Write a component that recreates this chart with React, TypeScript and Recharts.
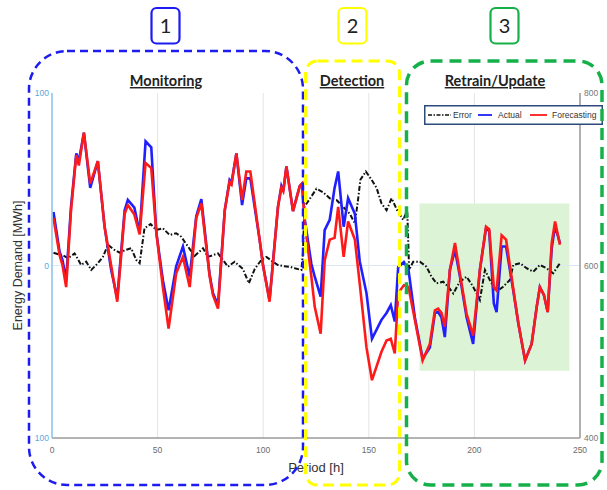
import React from 'react';
import { LineChart, Line, XAxis, YAxis, CartesianGrid, ReferenceArea, ReferenceLine, Legend } from 'recharts';

const hours = [0.7, 3.6, 5, 6.7, 9, 11.5, 12.7, 15.1, 18.1, 21.7, 24.9, 28, 30.9, 34.4, 35.9, 39, 41.5, 44.3, 47, 49.4, 52.5, 55.2, 58.8, 62, 65.2, 68.3, 70.7, 74.6, 76.2, 78.6, 81.8, 84.1, 85, 87.3, 90, 92, 93.9, 98.3, 100, 103, 107, 108.6, 109.5, 111, 114.1, 117.3, 118.4, 119.7, 122.8, 124.4, 127.2, 129.1, 131.5, 133.8, 135.5, 138.1, 140.2, 143.4, 145.7, 148.9, 151.5, 156, 158.4, 160.4, 162.3, 163.9, 166.6, 168.8, 171.8, 175.5, 178.9, 181.3, 182.8, 184.4, 186, 188.4, 190.8, 193.1, 196.3, 199.4, 202.6, 205.5, 207, 209.2, 210.5, 212.9, 215, 218.4, 220.8, 224, 227.1, 229.5, 231, 232.9, 234.7, 236.6, 238.2, 240.5];
const actual = [662, 616, 606, 583, 668, 730, 721, 754, 690, 721, 645, 595, 562, 664, 676, 667, 638, 744, 737, 638, 583, 548, 599, 622, 587, 657, 677, 590, 568, 554, 664, 699, 696, 730, 670, 701, 701, 630, 599, 560, 668, 692, 686, 715, 663, 692, 695, 653, 602, 587, 564, 641, 653, 690, 709, 645, 678, 660, 605, 568, 515, 537, 545, 554, 535, 598, 604, 595, 540, 492, 505, 545, 546, 540, 517, 595, 618, 588, 540, 509, 595, 643, 640, 556, 546, 622, 622, 571, 533, 490, 509, 552, 575, 566, 546, 620, 646, 626];
const forecasting = [655, 612, 600, 575, 664, 728, 716, 754, 695, 721, 645, 600, 558, 660, 670, 659, 636, 719, 713, 638, 575, 527, 591, 610, 575, 655, 672, 588, 566, 550, 664, 697, 694, 730, 676, 709, 709, 630, 599, 558, 668, 690, 686, 715, 663, 692, 695, 650, 587, 552, 521, 606, 630, 632, 668, 610, 651, 630, 579, 505, 467, 500, 513, 515, 498, 568, 577, 575, 537, 490, 509, 548, 550, 545, 529, 595, 626, 591, 544, 519, 595, 645, 642, 575, 571, 635, 630, 573, 533, 490, 509, 552, 575, 566, 546, 626, 651, 624];

const errorHours = [0.7, 3, 5, 7.6, 10.7, 13.8, 16.2, 18.6, 21.7, 24.1, 26.5, 29.6, 32, 34.8, 37.5, 39.9, 41.5, 43.8, 46.7, 49.4, 52.5, 55.7, 58.8, 61.2, 62.8, 64.4, 67.5, 71.5, 73.8, 78.6, 83.3, 86.5, 90.4, 93.2, 96, 99.1, 101.5, 104.6, 107, 110, 112.6, 115, 118.1, 118.8, 119.5, 122, 125.2, 128.3, 131.5, 134.7, 137.8, 141, 143.4, 144.9, 146, 148.6, 151.3, 153.7, 156, 158.4, 160.8, 163.4, 166.3, 168.2, 169.1, 171, 174.2, 177.3, 179.7, 182.1, 185.2, 187.6, 190, 193.1, 196.3, 199.4, 202.6, 205, 207.3, 210.5, 213.6, 216.8, 218.4, 221.6, 224.7, 227.9, 231, 234.2, 237.3, 240.5];
const errorValues = [7.4, 6.5, 6, 4.2, 7, 0.3, 2.2, -2.6, 1.3, 5, 12, 9, 7.4, 9, 10, 3.2, 1.3, 21.6, 24, 20.6, 21.6, 17.7, 18.7, 16.7, 13.8, 11, 5.5, 10, 5, 7, -0.7, 2.2, -2, -10.3, -2, 3.2, 5, 2.2, 0.3, -0.5, -0.7, -1.6, -2.6, 7, 34, 38.5, 44.5, 42.5, 39, 38, 34, 30, 24.5, 38, 49.7, 54.5, 49.7, 44.9, 36, 32, 39, 32, 26.5, 32, -2.6, 2.2, 2.2, -0.7, -6.5, -10.3, -9.4, -12.3, -16.2, -9.4, -6.5, -12.3, -20, -2.6, -8.4, -15.2, -12.3, -8.4, 0.3, 1.3, -1.6, -3.6, 0.3, -1.6, -4.5, 1.3];

const xTicks = [0, 50, 100, 150, 200, 250];
const leftTicks = [-100, 0, 100];
const rightTicks = [400, 600, 800];
const retrainWindowHours = [174, 245];
const retrainWindowError = [-61, 36];
const seriesNames = ['Error', 'Actual', 'Forecasting'];
const phaseNumbers = ['1', '2', '3'];
const phaseTitles = ['Monitoring', 'Detection', 'Retrain/Update'];

const demandData = hours.map((h, i) => ({ hour: h, actual: actual[i], forecasting: forecasting[i] }));
const errorData = errorHours.map((h, i) => ({ hour: h, error: errorValues[i] }));

const FONT = '"Liberation Sans", Arial, sans-serif';

const LegendBox = () => (
  <svg width={179} height={20} style={{ display: 'block' }}>
    <rect x={0.75} y={0.75} width={177.5} height={18.5} fill="#fff" stroke="#2d4b7a" strokeWidth={1.5} />
    <line x1={4} x2={27} y1={10} y2={10} stroke="#111" strokeWidth={1.6} strokeDasharray="4 1.5 1.5 1.5" />
    <text x={29} y={13} fontSize={8.5} fill="#333" fontFamily={FONT}>{seriesNames[0]}</text>
    <line x1={54} x2={68} y1={10} y2={10} stroke="#1f1fff" strokeWidth={1.8} />
    <text x={74} y={13} fontSize={8.5} fill="#333" fontFamily={FONT}>{seriesNames[1]}</text>
    <line x1={106} x2={123} y1={10} y2={10} stroke="#ff1a1a" strokeWidth={1.8} />
    <text x={128} y={13} fontSize={8.5} fill="#333" fontFamily={FONT}>{seriesNames[2]}</text>
  </svg>
);

const YLabel = (props: any) => {
  const vb = props.viewBox || { x: 0, y: 93, width: 52, height: 345 };
  const cx = 18;
  const cy = vb.y + vb.height / 2;
  return (
    <text x={cx} y={cy} transform={`rotate(-90, ${cx}, ${cy})`} textAnchor="middle" dominantBaseline="central" fontSize={12.5} fill="#333" fontFamily={FONT}>
      Energy Demand [MWh]
    </text>
  );
};

const boxes = [
  { x: 151.5, color: '#1c1cf0' },
  { x: 338.5, color: '#ffff00' },
  { x: 490.5, color: '#16b04a' },
];
const titleX = [166, 352, 495];

export default function App() {
  return (
    <div style={{ position: 'absolute', left: 0, top: 0, width: 607, height: 490, background: '#fff', fontFamily: FONT }}>
      <LineChart width={607} height={490} data={demandData} margin={{ top: 93, right: 0, bottom: 12, left: 0 }}>
        <ReferenceArea xAxisId="bottom" yAxisId="left" x1={retrainWindowHours[0]} x2={retrainWindowHours[1]} y1={retrainWindowError[0]} y2={retrainWindowError[1]} fill="#dcf3d6" fillOpacity={1} stroke="none" />
        <CartesianGrid xAxisId="bottom" yAxisId="left" horizontal={false} stroke="#e4e4e4" strokeWidth={1} />
        <ReferenceLine yAxisId="left" xAxisId="bottom" y={0} stroke="#dbe8f3" strokeWidth={1} />
        <XAxis xAxisId="bottom" dataKey="hour" type="number" domain={[0, 250]} ticks={xTicks} height={40} axisLine={{ stroke: '#9a9a9a', strokeWidth: 1.5 }} tickLine={false} tickSize={0} tickMargin={9} tick={{ fill: '#6a6a6a', fontSize: 8.5, fontFamily: FONT }} allowDataOverflow label={{ value: 'Period [h]', position: 'insideBottom', offset: 6, fill: '#333', fontSize: 13, fontFamily: FONT }} />
        <XAxis xAxisId="top" orientation="top" dataKey="hour" type="number" domain={[0, 250]} ticks={xTicks} height={0} mirror axisLine={{ stroke: '#9a9a9a', strokeWidth: 1.5 }} tickLine={{ stroke: '#9a9a9a' }} tickSize={4} tickFormatter={() => ''} allowDataOverflow />
        <YAxis yAxisId="left" domain={[-100, 100]} ticks={leftTicks} width={52} axisLine={{ stroke: '#8cc4ec', strokeWidth: 1.5 }} tickLine={false} tickSize={0} tickMargin={3} tick={{ fill: '#5aa7e0', fontSize: 8.5, fontFamily: FONT }} tickFormatter={(v: number) => String(Math.abs(v))} allowDataOverflow label={YLabel} />
        <YAxis yAxisId="right" orientation="right" domain={[400, 800]} ticks={rightTicks} width={27} axisLine={{ stroke: '#9a9a9a', strokeWidth: 1.5 }} tickLine={false} tickSize={0} tickMargin={4} tick={{ fill: '#777', fontSize: 8.5, fontFamily: FONT }} allowDataOverflow />
        <Line xAxisId="bottom" yAxisId="left" data={errorData} dataKey="error" name={seriesNames[0]} type="linear" stroke="#111" strokeWidth={2} strokeDasharray="5 2 1.5 2" dot={false} isAnimationActive={false} />
        <Line xAxisId="bottom" yAxisId="right" dataKey="actual" name={seriesNames[1]} type="linear" stroke="#1f1fff" strokeWidth={2.6} dot={false} isAnimationActive={false} />
        <Line xAxisId="bottom" yAxisId="right" dataKey="forecasting" name={seriesNames[2]} type="linear" stroke="#ff1a1a" strokeWidth={2.6} dot={false} isAnimationActive={false} />
        <Legend layout="horizontal" verticalAlign="middle" align="center" wrapperStyle={{ left: 424, top: 105, width: 179, height: 20 }} content={() => <LegendBox />} />
      </LineChart>
      <svg width={607} height={490} style={{ position: 'absolute', left: 0, top: 0, pointerEvents: 'none' }}>
        <rect x={29} y={51} width={274} height={434} rx={38} ry={38} fill="none" stroke="#1c1cf0" strokeWidth={2.5} strokeDasharray="8 5" />
        <rect x={305.5} y={61} width={94} height={424} rx={12} ry={12} fill="none" stroke="#ffff00" strokeWidth={3} strokeDasharray="11 6" />
        <rect x={406.5} y={61} width={195.5} height={424} rx={24} ry={24} fill="none" stroke="#16b04a" strokeWidth={3.5} strokeDasharray="12 7" />
        {boxes.map((b, i) => (
          <g key={i}>
            <rect x={b.x} y={8} width={28} height={35.5} rx={5} ry={5} fill="#fff" stroke={b.color} strokeWidth={2.2} />
            <text x={b.x + 14} y={32.5} textAnchor="middle" fontSize={20} fill="#222" fontFamily="Lato, 'Open Sans', sans-serif">{phaseNumbers[i]}</text>
          </g>
        ))}
        {phaseTitles.map((t, i) => (
          <text key={t} x={titleX[i]} y={86} textAnchor="middle" fontSize={14.5} fontWeight="bold" fill="#222" fontFamily="Lato, 'Open Sans', sans-serif" style={{ textDecoration: 'underline' }}>{t}</text>
        ))}
      </svg>
    </div>
  );
}
